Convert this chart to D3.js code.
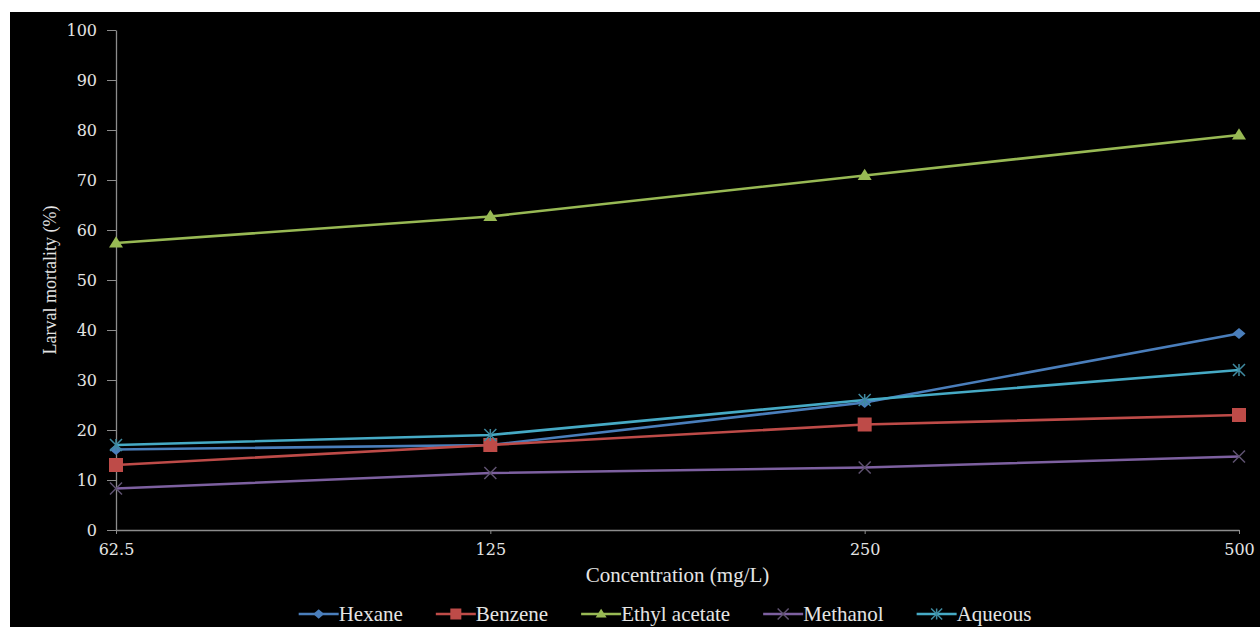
<!DOCTYPE html>
<html><head><meta charset="utf-8">
<script src="https://cdn.jsdelivr.net/npm/d3@7"></script>
<style>
html,body{margin:0;padding:0;background:#fff;}
svg{display:block;}
</style></head><body>
<svg id="chart" width="1260" height="627"></svg>
<script>
const categories = ["62.5", "125", "250", "500"];
const yTicks = [0,10,20,30,40,50,60,70,80,90,100];
const seriesNames = ["Hexane", "Benzene", "Ethyl acetate", "Methanol", "Aqueous"];
const hexane = [16.1, 17.0, 25.5, 39.3];
const benzene = [13.0, 17.0, 21.1, 23.0];
const ethylAcetate = [57.4, 62.7, 70.9, 79.0];
const methanol = [8.3, 11.4, 12.5, 14.7];
const aqueous = [17.0, 19.0, 26.0, 32.0];
const seriesValues = [hexane, benzene, ethylAcetate, methanol, aqueous];
const colors = ["#4a7ebb", "#be4b48", "#98b954", "#7d60a0", "#46aac5"];
const markers = ["diamond", "square", "triangle", "x", "star"];

(function(){
const SERIF = "'Liberation Serif', Tinos, 'Times New Roman', 'DejaVu Serif', serif";
const NUMF = "'DejaVu Serif', serif";
const svg = d3.select("#chart");
svg.append("rect").attr("x",10).attr("y",12).attr("width",1250).attr("height",615).attr("fill","#000");

const mLeft = 116, mRight = 1239, mTop = 30, mBottom = 530;
const x = d3.scalePoint().domain(categories).range([mLeft, mRight]);
const y = d3.scaleLinear().domain([0,100]).range([mBottom, mTop]);

const yAxis = svg.append("g").attr("transform",`translate(${mLeft},0)`)
  .call(d3.axisLeft(y).tickValues(yTicks).tickSize(9).tickPadding(10).tickSizeOuter(0));
yAxis.select(".domain").attr("stroke","#8c8c8c").attr("stroke-width",1.3);
yAxis.selectAll(".tick line").attr("stroke","#8c8c8c");
yAxis.selectAll(".tick text").style("font-size","16px").style("fill","#e4e4e4").style("font-family",NUMF);

const xAxis = svg.append("g").attr("transform",`translate(0,${mBottom})`)
  .call(d3.axisBottom(x).tickSize(4).tickPadding(10).tickSizeOuter(0));
xAxis.select(".domain").attr("stroke","#8c8c8c").attr("stroke-width",1.3);
xAxis.selectAll(".tick line").attr("stroke","#8c8c8c");
xAxis.selectAll(".tick text").style("font-size","16px").style("fill","#e4e4e4").style("font-family",NUMF);

svg.append("text").attr("x",(mLeft+mRight)/2).attr("y",582).attr("text-anchor","middle")
  .style("font-family",SERIF).style("font-size","21px").style("fill","#e4e4e4").text("Concentration (mg/L)");
svg.append("text").attr("transform",`translate(56,${(mTop+mBottom)/2}) rotate(-90)`)
  .attr("text-anchor","middle").style("font-family",SERIF).style("font-size","18px").style("fill","#e4e4e4").text("Larval mortality (%)");

function drawMarker(g, type, cx, cy, color, s){
  if(type==="diamond"){
    g.append("path").attr("d",`M${cx},${cy-s*0.85}L${cx+s},${cy}L${cx},${cy+s*0.85}L${cx-s},${cy}Z`).attr("fill",color);
  } else if(type==="square"){
    g.append("rect").attr("x",cx-s).attr("y",cy-s).attr("width",2*s).attr("height",2*s).attr("fill",color);
  } else if(type==="triangle"){
    g.append("path").attr("d",`M${cx},${cy-s*0.95}L${cx+s},${cy+s*0.65}L${cx-s},${cy+s*0.65}Z`).attr("fill",color);
  } else if(type==="x"){
    g.append("path").attr("d",`M${cx-s},${cy-s}L${cx+s},${cy+s}M${cx-s},${cy+s}L${cx+s},${cy-s}`).attr("stroke","#5f5270").attr("stroke-width",1.5).attr("fill","none");
  } else if(type==="star"){
    g.append("path").attr("d",`M${cx-s},${cy-s}L${cx+s},${cy+s}M${cx-s},${cy+s}L${cx+s},${cy-s}M${cx},${cy-s}L${cx},${cy+s}`).attr("stroke","#3f8aa0").attr("stroke-width",1.5).attr("fill","none");
  }
}

const line = d3.line().x((d,i)=>x(categories[i])).y(d=>y(d));
seriesValues.forEach((vals, si) => {
  svg.append("path").datum(vals).attr("d", line).attr("fill","none")
    .attr("stroke", colors[si]).attr("stroke-width",2.6);
});
const msize = [6.5, 7, 7, 6, 6];
seriesValues.forEach((vals, si) => {
  const g = svg.append("g");
  vals.forEach((v,i)=> drawMarker(g, markers[si], x(categories[i]), y(v), colors[si], msize[si]));
});

// legend: measure text widths, centered
const ly = 614;
const lineLen = 40, gap = 33;
const items = seriesNames.map((name, si) => {
  const g = svg.append("g");
  const t = g.append("text").attr("y",ly+7).style("font-family",SERIF).style("font-size","21px").style("fill","#e4e4e4").text(name);
  return {g, t, w: t.node().getComputedTextLength(), si};
});
const total = d3.sum(items, d=>lineLen + d.w) + gap*(items.length-1);
let cx0 = 665 - total/2;
items.forEach(d => {
  d.g.insert("line","text").attr("x1",cx0).attr("x2",cx0+lineLen).attr("y1",ly).attr("y2",ly)
    .attr("stroke",colors[d.si]).attr("stroke-width",2.6);
  drawMarker(d.g, markers[d.si], cx0+lineLen/2, ly, colors[d.si], 5.5);
  d.t.attr("x", cx0+lineLen);
  cx0 += lineLen + d.w + gap;
});
})();
</script>
</body></html>
